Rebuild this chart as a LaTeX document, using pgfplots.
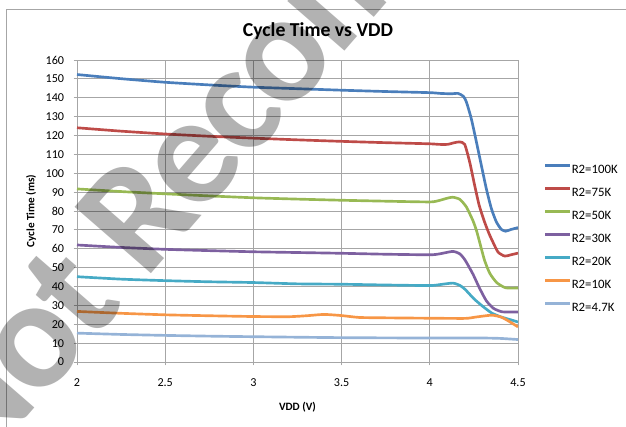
\documentclass[border=0pt]{standalone}
\usepackage{fontspec}
\setmainfont{Carlito}
\newfontfamily\wmfont[LetterSpace=-3]{Carlito}
\usepackage{pgfplots}
\pgfplotsset{compat=1.18}
\definecolor{c1}{HTML}{4A7EBB}
\definecolor{c2}{HTML}{BE4B48}
\definecolor{c3}{HTML}{98B954}
\definecolor{c4}{HTML}{7D60A0}
\definecolor{c5}{HTML}{46AAC5}
\definecolor{c6}{HTML}{F79646}
\definecolor{c7}{HTML}{95B3D7}
\definecolor{gridc}{HTML}{A6A6A6}
\begin{document}
\begin{tikzpicture}[x=1pt,y=1pt]
\useasboundingbox (-57.75,-48) rectangle (411.75,271.5);
\begin{axis}[
  at={(0,0)}, anchor=south west,
  scale only axis, width=330.75pt, height=226.5pt,
  xmin=2, xmax=4.5, ymin=0, ymax=160,
  xtick={2,2.5,3,3.5,4,4.5}, ytick={0,10,...,160},
  grid=major, major grid style={draw=gridc, line width=0.6pt},
  axis line style={draw=gridc, line width=0.6pt},
  tick align=outside, major tick length=2.5pt, tick style={draw=gridc, line width=0.6pt},
  xtick pos=lower, ytick pos=left,
  /pgf/number format/assume math mode=true,
  ticklabel style={font=\fontsize{9.1}{10}\selectfont, inner sep=0pt},
  xticklabel style={anchor=north, yshift=-9.8pt},
  yticklabel style={anchor=east, xshift=-7pt},
  every axis title shift=0pt,
  title={Cycle Time vs VDD},
  title style={at={(0.5465,1.0762)}, anchor=base, yshift=0pt, font=\bfseries\fontsize{14.8}{16}\selectfont, inner sep=0pt},
  xlabel={VDD (V)},
  xlabel style={at={(0.5,0)}, anchor=base, yshift=-36pt, font=\bfseries\fontsize{8.4}{10}\selectfont, inner sep=0pt},
  ylabel={Cycle Time (ms)},
  ylabel style={at={(-0.1043,0.5)}, anchor=center, font=\bfseries\fontsize{8.4}{10}\selectfont, inner sep=0pt},
  legend style={at={(1.058,0.655)}, anchor=north west, draw=none, fill=none,
    font=\fontsize{9.6}{10}\selectfont, inner sep=0pt, row sep=10.0pt,
    nodes={inner sep=0pt, text height=6.1pt, text depth=0pt}},
  legend cell align=left,
  legend image code/.code={\draw[#1, line width=2.2pt] (0pt,3pt) -- (18.75pt,3pt);},
  every axis plot/.append style={line width=2pt, smooth, tension=0.35},
]
\addplot[c1] coordinates {(2.0,152.3) (2.25,150.1) (2.5,148.2) (2.75,146.8) (3.0,145.6) (3.25,144.8) (3.5,144.0) (3.75,143.3) (4.0,142.7) (4.06,142.3) (4.12,142.1) (4.16,142.3) (4.19,140.8) (4.207,137.9) (4.235,129) (4.264,116.7) (4.292,104.3) (4.32,92) (4.349,81.3) (4.377,74.3) (4.405,70.3) (4.43,69.3) (4.46,70.2) (4.5,71.2)};
\addlegendentry{R2=100K}
\addplot[c2] coordinates {(2.0,124.1) (2.25,122.3) (2.5,120.8) (2.75,119.6) (3.0,118.6) (3.25,117.7) (3.5,116.9) (3.75,116.2) (4.0,115.6) (4.05,115.3) (4.1,115.3) (4.14,116.2) (4.17,116.6) (4.198,115.3) (4.226,106) (4.254,93.7) (4.28,83) (4.31,74.3) (4.336,68) (4.358,63.5) (4.387,58.2) (4.425,56.1) (4.46,56.8) (4.5,57.7)};
\addlegendentry{R2=75K}
\addplot[c3] coordinates {(2.0,91.7) (2.25,90.3) (2.5,89.1) (2.75,88) (3.0,87) (3.25,86.3) (3.5,85.7) (3.75,85.2) (4.0,84.8) (4.05,85.5) (4.1,86.8) (4.13,87.3) (4.17,86.2) (4.207,82.2) (4.245,74.8) (4.265,69.5) (4.28,64.4) (4.31,54) (4.34,47) (4.38,42) (4.43,39.3) (4.5,39.2)};
\addlegendentry{R2=50K}
\addplot[c4] coordinates {(2.0,62) (2.25,60.7) (2.5,59.7) (2.75,59) (3.0,58.4) (3.25,58) (3.5,57.6) (3.75,57.1) (4.0,56.8) (4.056,57.3) (4.13,58.6) (4.17,57.3) (4.2,54) (4.245,46.5) (4.28,39.5) (4.32,32.5) (4.36,28.5) (4.41,26.6) (4.5,26.5)};
\addlegendentry{R2=30K}
\addplot[c5] coordinates {(2.0,45.2) (2.25,43.9) (2.5,43.1) (2.75,42.5) (3.0,42.1) (3.25,41.4) (3.5,41.2) (3.75,40.8) (4.0,40.5) (4.056,41.0) (4.13,41.8) (4.17,40.6) (4.2,38.5) (4.25,33.5) (4.3,29.5) (4.35,26) (4.4,24) (4.45,22.6) (4.5,21.2)};
\addlegendentry{R2=20K}
\addplot[c6] coordinates {(2.0,26.8) (2.25,25.8) (2.5,25.0) (2.75,24.5) (3.0,24.1) (3.2,24.0) (3.3,24.5) (3.4,25.2) (3.5,24.6) (3.6,23.6) (3.75,23.4) (4.0,23.2) (4.2,23.1) (4.26,23.8) (4.35,24.8) (4.405,23.8) (4.45,21.5) (4.5,18.6)};
\addlegendentry{R2=10K}
\addplot[c7] coordinates {(2.0,15.3) (2.25,14.6) (2.5,14.1) (2.75,13.7) (3.0,13.4) (3.5,12.9) (4.0,12.7) (4.3,12.7) (4.4,12.5) (4.5,11.9)};
\addlegendentry{R2=4.7K}
\end{axis}
\draw[gridc, line width=0.75pt] (-52.5,-60) -- (-52.5,264.4) -- (420,264.4);
\node[rotate=49, anchor=base west, inner sep=0pt, text=black, text opacity=0.3, font=\wmfont\bfseries\fontsize{117}{118}\selectfont] at (-77.55,-87.4) {Not Recommended};
\end{tikzpicture}
\end{document}
